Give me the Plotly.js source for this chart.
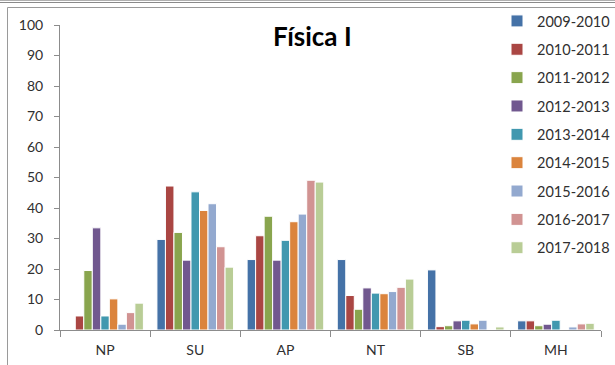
<!DOCTYPE html>
<html>
<head>
<meta charset="utf-8">
<script src="https://cdn.plot.ly/plotly-3.0.1.min.js"></script>
<style>html,body{margin:0;padding:0;background:#fff;}</style>
</head>
<body>
<div id="chart" style="width:615px;height:365px;"></div>
<script>
const categories = ["NP", "SU", "AP", "NT", "SB", "MH"];
const seriesNames = ["2009-2010", "2010-2011", "2011-2012", "2012-2013", "2013-2014", "2014-2015", "2015-2016", "2016-2017", "2017-2018"];
const s2009 = [0, 29.7, 23.1, 23.1, 19.7, 3];
const s2010 = [4.6, 47.2, 30.9, 11.3, 1.1, 3];
const s2011 = [19.5, 32, 37.3, 6.8, 1.4, 1.4];
const s2012 = [33.5, 22.9, 22.9, 13.8, 3, 1.9];
const s2013 = [4.6, 45.3, 29.4, 12.1, 3.2, 3.2];
const s2014 = [10.2, 39.2, 35.5, 11.9, 2, 0];
const s2015 = [1.9, 41.4, 38, 12.6, 3.2, 1];
const s2016 = [5.7, 27.3, 49.1, 14, 0, 2];
const s2017 = [8.8, 20.6, 48.5, 16.7, 1, 2.2];
const seriesValues = [s2009, s2010, s2011, s2012, s2013, s2014, s2015, s2016, s2017];
const colors = ["#4572A7", "#AA4643", "#89A54E", "#71588F", "#4198AF", "#DB843D", "#93A9CF", "#D19392", "#B9CD96"];

const W = 615, H = 365, L = 60, R = 14, T = 25, B = 35;
const pw = W - L - R, ph = H - T - B;
const px = x => (x - L) / pw;
const py = y => (H - B - y) / ph;

const traces = seriesNames.map((name, i) => ({
  type: "bar",
  name: name,
  x: categories,
  y: seriesValues[i],
  legendgroup: "g" + i,
  marker: { color: colors[i], line: { color: "#ffffff", width: 1 } },
  hoverinfo: "x+y+name"
}));

const frame = "#9a9a9a";
const layout = {
  width: W, height: H,
  margin: { l: L, r: R, t: T, b: B, pad: 0, autoexpand: false },
  paper_bgcolor: "#ffffff",
  plot_bgcolor: "#ffffff",
  font: { family: "Lato, 'Open Sans', sans-serif", color: "#404040", size: 14 },
  barmode: "group",
  bargap: 0.15,
  bargroupgap: 0,
  showlegend: true,
  legend: {
    x: px(497), xanchor: "left",
    y: py(5), yanchor: "top",
    font: { size: 14.5, color: "#303030" },
    tracegroupgap: 6.5,
    maxheight: 360,
    bgcolor: "rgba(0,0,0,0)",
    itemclick: false
  },
  annotations: [{
    text: "<b>Física I</b>",
    xref: "paper", yref: "paper",
    x: px(312), y: py(36),
    xanchor: "center", yanchor: "middle",
    showarrow: false,
    font: { family: "Lato, 'Open Sans', sans-serif", size: 26, color: "#000000" }
  }],
  xaxis: {
    type: "category",
    showline: true, linecolor: "#8c8c8c", linewidth: 1,
    ticks: "outside", tickson: "boundaries", ticklen: 6, tickcolor: "#8c8c8c",
    ticklabelstandoff: 7,
    showgrid: false, zeroline: false,
    tickfont: { size: 14, color: "#303030" },
    fixedrange: true
  },
  yaxis: {
    range: [0, 100],
    dtick: 10,
    showline: true, linecolor: "#8c8c8c", linewidth: 1,
    ticks: "outside", ticklen: 5, tickcolor: "#8c8c8c",
    ticklabelstandoff: 8,
    showgrid: false, zeroline: false,
    tickfont: { size: 14, color: "#303030" },
    fixedrange: true
  },
  shapes: [
    { type: "line", xref: "paper", yref: "paper", x0: px(0), x1: px(615), y0: py(0.5), y1: py(0.5), line: { color: "#b0b0b0", width: 1 } },
    { type: "line", xref: "paper", yref: "paper", x0: px(0), x1: px(615), y0: py(2.5), y1: py(2.5), line: { color: "#8a8a8a", width: 1 } },
    { type: "line", xref: "paper", yref: "paper", x0: px(7.5), x1: px(615), y0: py(7.5), y1: py(7.5), line: { color: frame, width: 1 } },
    { type: "line", xref: "paper", yref: "paper", x0: px(7.5), x1: px(7.5), y0: py(7.5), y1: py(365), line: { color: frame, width: 1 } }
  ]
};

Plotly.newPlot("chart", traces, layout, { displayModeBar: false, staticPlot: false });
</script>
</body>
</html>
